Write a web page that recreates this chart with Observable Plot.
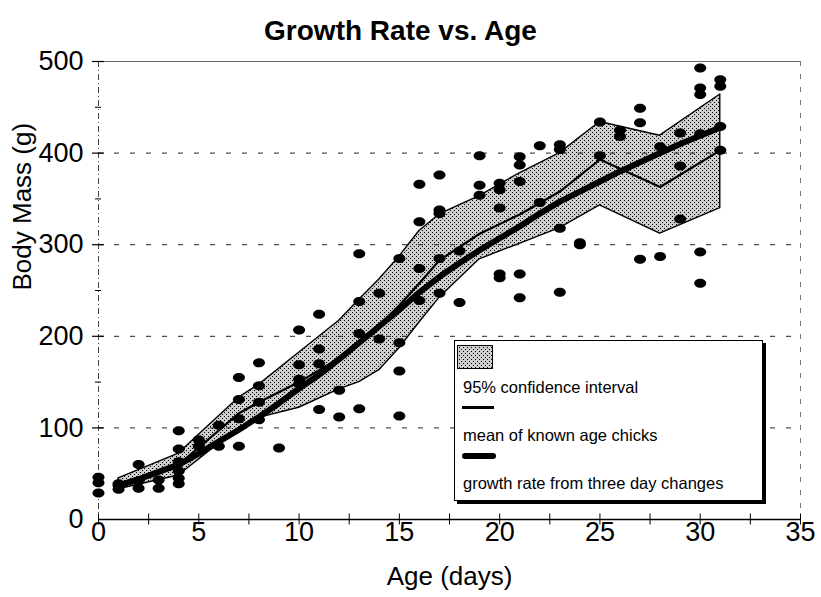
<!DOCTYPE html>
<html><head><meta charset="utf-8">
<script src="https://cdn.jsdelivr.net/npm/d3@7"></script>
<script src="https://cdn.jsdelivr.net/npm/@observablehq/plot@0.6"></script>
<style>
body{margin:0;background:#fff;}
#wrap{position:relative;width:821px;height:597px;font-family:"Liberation Sans",Arial,sans-serif;color:#000;}
#chart{position:absolute;left:0;top:0;}
#title{position:absolute;left:0;top:17px;width:801px;text-align:center;font-weight:bold;font-size:28px;line-height:28px;}
#legend{position:absolute;left:454px;top:340px;width:307px;height:159px;border:1.5px solid #000;background:#fff;box-shadow:3px 3px 0 #000;}
#legend .t{position:absolute;left:8px;font-size:16.5px;line-height:16.5px;white-space:nowrap;}
#legend .sw{position:absolute;left:2px;top:4px;}
#legend .l1{position:absolute;left:7px;top:65px;width:32px;height:2.5px;background:#000;}
#legend .l2{position:absolute;left:7px;top:112px;width:34px;height:6px;background:#000;border-radius:3px;}
</style></head>
<body>
<div id="wrap">
  <div id="chart"></div>
  <div id="title">Growth Rate vs. Age</div>
  <div id="legend">
    <svg class="sw" width="36" height="24"><defs><pattern id="stipple2" width="4" height="4" patternUnits="userSpaceOnUse"><rect width="4" height="4" fill="#cdcdcd"/><rect x="0" y="0" width="1" height="1" fill="#000"/><rect x="2" y="2" width="1" height="1" fill="#000"/></pattern></defs><rect x="0.5" y="0.5" width="35" height="23" fill="url(#stipple2)" stroke="#000" stroke-width="1"/></svg>
    <div class="t" style="top:38px">95% confidence interval</div>
    <div class="l1"></div>
    <div class="t" style="top:86px">mean of known age chicks</div>
    <div class="l2"></div>
    <div class="t" style="top:134px">growth rate from three day changes</div>
  </div>
</div>
<script>
// Scatter points: age (days) and body mass (g)
const pointAge = [
  0,0,0, 1,1,1, 2,2,2, 3,3, 4,4,4,4,4,4, 5,5, 6,6, 7,7,7,7, 8,8,8,8, 9,
  10,10,10,10, 11,11,11,11, 12,12, 13,13,13,13, 14,14, 15,15,15,15,
  16,16,16,16, 17,17,17,17,17, 18,18, 19,19,19, 20,20,20,20,20,
  21,21,21,21,21, 22,22, 23,23,23,23, 24,24, 25,25, 26,26, 27,27,27,
  28,28, 29,29,29, 30,30,30,30,30,30, 31,31,31,31
];
const pointMass = [
  46,40,29, 39,33,37, 60,42,34, 43,34, 97,77,63,53,45,39, 87,80, 103,80, 155,131,110,80, 171,146,128,109, 78,
  207,169,153,148, 224,186,170,120, 141,112, 290,238,203,121, 247,197, 285,193,162,113,
  366,325,274,239, 376,338,334,285,247, 293,237, 397,365,354, 367,360,340,268,264,
  396,387,369,268,242, 408,346, 409,404,318,248, 302,300, 434,397, 425,418, 449,433,284,
  407,287, 422,386,328, 493,471,464,421,292,258, 480,473,429,403
];
// 95% confidence interval and mean of known-age chicks
const ciAge   = [1, 4, 7, 8, 10, 12, 13, 14, 15, 16, 17, 19, 21, 23, 25, 28, 31];
const ciUpper = [45, 72, 133, 147, 182, 217, 240, 262, 287, 315, 333, 353, 378, 400, 434, 419, 464];
const ciLower = [33, 48, 100, 111, 122, 142, 150, 163, 187, 215, 242, 284, 301, 318, 343, 312, 340];
const meanMass = [39, 60, 116, 128, 150, 176, 194, 212, 234, 258, 283, 312, 333, 358, 393, 363, 403];
// Growth rate from three day changes
const growthAge = [1,2,3,4,5,6,7,8,9,10,11,12,13,14,15,16,17,18,19,20,21,22,23,24,25,26,27,28,29,30,31];
const growthMass = [37,44,52,60,72,85,98,112,127,143,158,175,193,211,229,248,265,280,294,307,320,334,347,358,369,380,390,400,410,419,428];
// Axis ticks
const xTickLabels = [0,5,10,15,20,25,30,35];
const xTickMarks = [0,2.5,5,7.5,10,12.5,15,17.5,20,22.5,25,27.5,30,32.5,35];
const yTickLabels = [0,100,200,300,400,500];
const yMinorTicks = [50,150,250,350,450];
const gridY = [100,200,300,400];

const points = pointAge.map((a,i)=>({age:a, mass:pointMass[i]}));
const ci = ciAge.map((a,i)=>({age:a, lower:ciLower[i], upper:ciUpper[i], mean:meanMass[i]}));
const growth = growthAge.map((a,i)=>({age:a, mass:growthMass[i]}));

const ellipse = {
  draw(ctx) {
    const rx = 6, ry = 4.5, k = 0.5523;
    ctx.moveTo(rx, 0);
    ctx.bezierCurveTo(rx, ry*k, rx*k, ry, 0, ry);
    ctx.bezierCurveTo(-rx*k, ry, -rx, ry*k, -rx, 0);
    ctx.bezierCurveTo(-rx, -ry*k, -rx*k, -ry, 0, -ry);
    ctx.bezierCurveTo(rx*k, -ry, rx, -ry*k, rx, 0);
    ctx.closePath();
  }
};

const narrow = '"Liberation Sans Narrow","Liberation Sans",Arial,sans-serif';

const svg = Plot.plot({
  width: 821, height: 597,
  marginLeft: 98, marginRight: 21, marginTop: 61, marginBottom: 78,
  x: {domain: [0, 35], label: null},
  y: {domain: [0, 500], label: null},
  style: {fontFamily: '"Liberation Sans",Arial,sans-serif', background: "white", overflow: "visible", color: "black"},
  marks: [
    Plot.areaY(ci, {x: "age", y1: "lower", y2: "upper", fill: "url(#stipple)", stroke: "black", strokeWidth: 1.4}),
    Plot.ruleY(gridY, {stroke: "#222", strokeWidth: 1, strokeDasharray: "5,11"}),
    Plot.ruleY([500], {stroke: "#666", strokeWidth: 1}),
    Plot.ruleX([0], {stroke: "#444", strokeWidth: 1, strokeDasharray: "6,3,1,3"}),
    Plot.ruleX([35], {stroke: "#777", strokeWidth: 1, strokeDasharray: "5,8"}),
    Plot.ruleY([0], {stroke: "black", strokeWidth: 1.5}),
    Plot.ruleX(xTickMarks, {y1: -6, y2: 6, stroke: "black", strokeWidth: 1}),
    Plot.ruleY(yTickLabels.slice(1), {x1: -0.3, x2: 0.3, stroke: "black", strokeWidth: 1.2}),
    Plot.ruleY(yMinorTicks, {x1: -0.15, x2: 0.15, stroke: "black", strokeWidth: 1}),
    Plot.axisX({ticks: xTickLabels, tickSize: 0, tickPadding: 2, fontSize: 27, fontFamily: narrow, label: null}),
    Plot.axisY({ticks: yTickLabels, tickSize: 0, tickPadding: 15, fontSize: 27, fontFamily: narrow, label: null}),
    Plot.lineY(ci, {x: "age", y: "mean", stroke: "black", strokeWidth: 2.2}),
    Plot.lineY(growth, {x: "age", y: "mass", stroke: "black", strokeWidth: 6, strokeLinecap: "round", strokeLinejoin: "round"}),
    Plot.dot(points, {x: "age", y: "mass", symbol: ellipse, fill: "black", r: 6}),
    Plot.text(["Age (days)"], {frameAnchor: "bottom", dy: 57, lineAnchor: "middle", fontSize: 26, fontFamily: narrow}),
    Plot.text(["Body Mass (g)"], {frameAnchor: "left", dx: -76, rotate: -90, lineAnchor: "middle", fontSize: 26, fontFamily: narrow})
  ]
});
const ns = "http://www.w3.org/2000/svg";
const defs = document.createElementNS(ns, "defs");
defs.innerHTML = '<pattern id="stipple" width="4" height="4" patternUnits="userSpaceOnUse"><rect width="4" height="4" fill="#cdcdcd"/><rect x="0" y="0" width="1" height="1" fill="#000"/><rect x="2" y="2" width="1" height="1" fill="#000"/></pattern>';
svg.insertBefore(defs, svg.firstChild);
document.getElementById("chart").appendChild(svg);
</script>
</body></html>
